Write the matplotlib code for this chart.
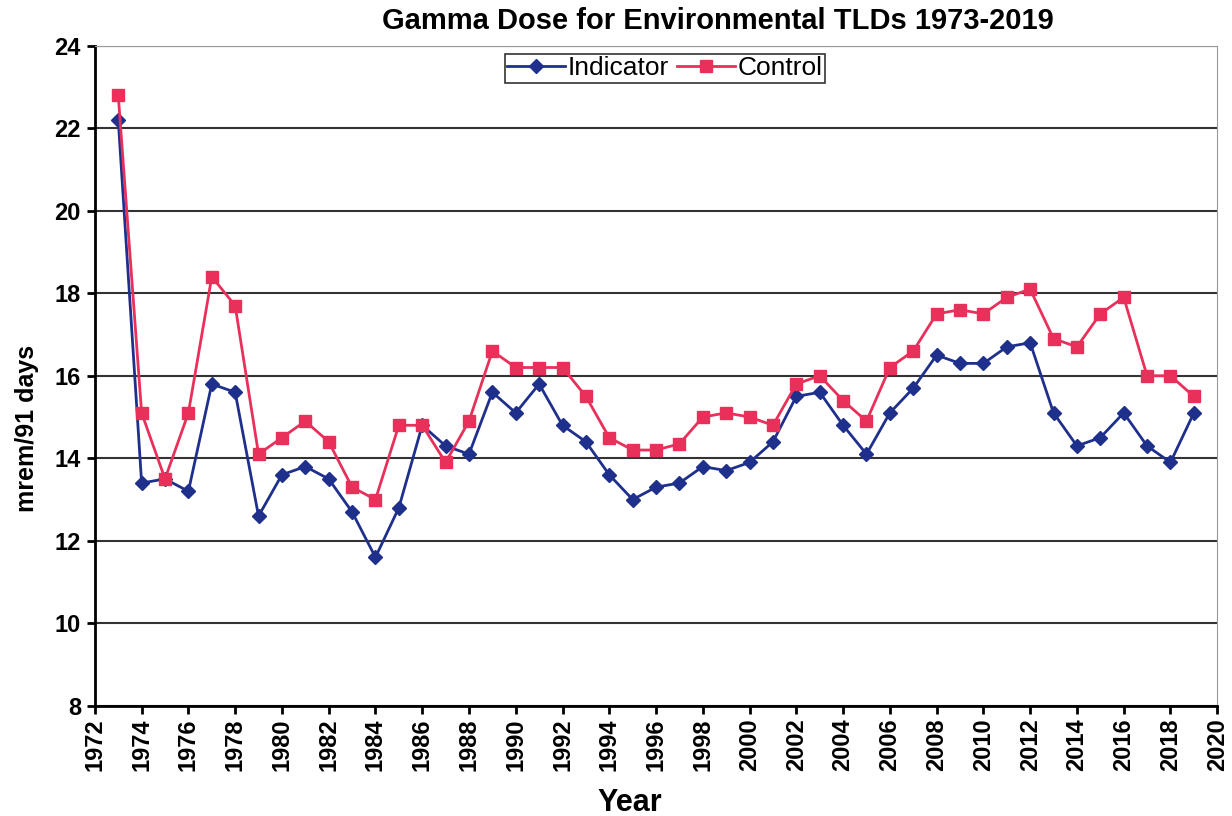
import matplotlib.pyplot as plt
import numpy as np

years = np.arange(1973, 2020)

indicator = [22.2, 13.4, 13.5, 13.2, 15.8, 15.6, 12.6, 13.6, 13.8, 13.5,
             12.7, 11.6, 12.8, 14.8, 14.3, 14.1, 15.6, 15.1, 15.8, 14.8,
             14.4, 13.6, 13.0, 13.3, 13.4, 13.8, 13.7, 13.9, 14.4, 15.5,
             15.6, 14.8, 14.1, 15.1, 15.7, 16.5, 16.3, 16.3, 16.7, 16.8,
             15.1, 14.3, 14.5, 15.1, 14.3, 13.9, 15.1]

control = [22.8, 15.1, 13.5, 15.1, 18.4, 17.7, 14.1, 14.5, 14.9, 14.4,
           13.3, 13.0, 14.8, 14.8, 13.9, 14.9, 16.6, 16.2, 16.2, 16.2,
           15.5, 14.5, 14.2, 14.2, 14.35, 15.0, 15.1, 15.0, 14.8, 15.8,
           16.0, 15.4, 14.9, 16.2, 16.6, 17.5, 17.6, 17.5, 17.9, 18.1,
           16.9, 16.7, 17.5, 17.9, 16.0, 16.0, 15.5]

plt.rcParams['font.family'] = ['Liberation Sans', 'DejaVu Sans']

fig = plt.figure(figsize=(12.32, 8.16), dpi=100)
ax = fig.add_axes([0.077, 0.135, 0.911, 0.809])

ax.plot(years, indicator, color='#1f2f8c', marker='D', markersize=7,
        linewidth=2, label='Indicator')
ax.plot(years, control, color='#e8305a', marker='s', markersize=8,
        linewidth=2, label='Control')

ax.set_xlim(1972, 2020)
ax.set_ylim(8, 24)
ax.set_xticks(np.arange(1972, 2021, 2))
ax.set_yticks(np.arange(8, 25, 2))
ax.tick_params(axis='x', labelrotation=90, length=6, width=2, pad=3)
ax.tick_params(axis='y', length=6, width=2, pad=4)
for lbl in ax.get_xticklabels() + ax.get_yticklabels():
    lbl.set_fontweight('bold')
    lbl.set_fontsize(17)

ax.yaxis.grid(True, color='#333333', linewidth=1.5)
ax.set_axisbelow(True)
ax.spines['left'].set_linewidth(2)
ax.spines['bottom'].set_linewidth(2)
ax.spines['top'].set_color('#999999')
ax.spines['right'].set_color('#999999')

ax.set_title('Gamma Dose for Environmental TLDs 1973-2019', fontsize=21,
             fontweight='bold', pad=12, x=0.555)
ax.set_xlabel('Year', fontsize=22, fontweight='bold', labelpad=0)
ax.xaxis.set_label_coords(0.477, -0.125)
ax.set_ylabel('mrem/91 days', fontsize=18, fontweight='bold')
ax.yaxis.set_label_coords(-0.05, 0.42)

leg = ax.legend(loc='upper center', bbox_to_anchor=(0.508, 1.0), ncol=2,
                prop={'family': ['Liberation Sans Narrow', 'Liberation Sans'],
                      'size': 19},
                frameon=True, fancybox=False, edgecolor='black',
                handlelength=2.2, columnspacing=0.3, handletextpad=0.1,
                borderpad=0.1, borderaxespad=0.3)
leg.get_frame().set_linewidth(1.2)

fig.savefig('out.png', dpi=100)
